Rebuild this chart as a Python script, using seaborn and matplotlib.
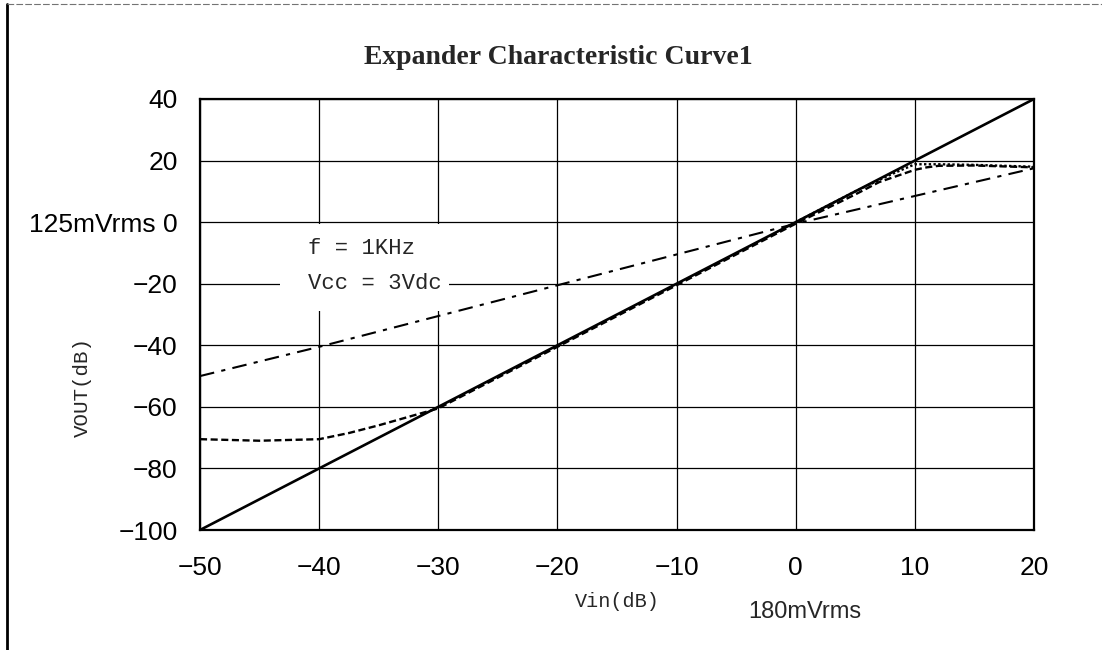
import matplotlib
matplotlib.use("Agg")
import matplotlib.pyplot as plt
import seaborn as sns
from matplotlib import font_manager
from matplotlib.patches import Rectangle
from matplotlib.lines import Line2D

# reference line Vout = 2*Vin (solid)
vin_solid = [-50, -40, -30, -20, -10, 0, 10, 20]
vout_solid = [-100, -80, -60, -40, -20, 0, 20, 40]

# unity line (dash-dot)
vin_unity = [-50, -40, -30, -20, -10, 0, 10, 20]
vout_unity = [-50, -40.5, -30.5, -20.5, -10.5, -0.5, 8.5, 17.5]

# measured expander curve (dashed)
vin_meas = [-50, -45, -40, -37.5, -35, -30, -20, -10, 0, 5, 7, 10, 11, 12, 15, 20]
vout_meas = [-70.5, -71, -70.5, -68.5, -66, -60.5, -40.5, -20.5, -0.5, 9, 13, 17, 17.8, 18.3, 18.4, 17.8]

# second measured curve (dotted), only visible at the top end
vin_meas2 = [0, 5, 8, 10, 12, 15, 20]
vout_meas2 = [0, 10, 15.5, 18.8, 18.8, 18.6, 18]

xticks = [-50, -40, -30, -20, -10, 0, 10, 20]
yticks = [-100, -80, -60, -40, -20, 0, 20, 40]
ylabels = ["\u2212100", "\u221280", "\u221260", "\u221240", "\u221220", "125mVrms 0", "20", "40"]
xlabels = ["\u221250", "\u221240", "\u221230", "\u221220", "\u221210", "0", "10", "20"]

sns.set_style("white")
names = {f.name for f in font_manager.fontManager.ttflist}
narrow = "Liberation Sans Narrow" if "Liberation Sans Narrow" in names else "Liberation Sans"
mono = "Liberation Mono"
plt.rcParams["font.family"] = [narrow, "DejaVu Sans"]

fig = plt.figure(figsize=(11.02, 6.5), dpi=100)
ax = fig.add_axes([200 / 1102, 1 - 530 / 650, 834 / 1102, 431 / 650])

sns.lineplot(x=vin_solid, y=vout_solid, ax=ax, color="black", linewidth=1.9, zorder=5)
sns.lineplot(x=vin_unity, y=vout_unity, ax=ax, color="black", linewidth=1.5,
             linestyle=(0, (7, 3.5, 2, 3.5)), zorder=4)
sns.lineplot(x=vin_meas, y=vout_meas, ax=ax, color="black", linewidth=1.7,
             linestyle=(0, (3, 1.5)), zorder=4)
sns.lineplot(x=vin_meas2, y=vout_meas2, ax=ax, color="black", linewidth=1.7,
             linestyle=(0, (1, 1)), zorder=4)

ax.set_xlim(-50, 20)
ax.set_ylim(-100, 40)
ax.set_xticks(xticks)
ax.set_xticklabels(xlabels)
ax.set_yticks(yticks)
ax.set_yticklabels(ylabels)
ax.tick_params(axis="both", length=0, labelsize=19, colors="black")
ax.tick_params(axis="x", pad=19)
ax.tick_params(axis="y", pad=16)
ax.grid(True, color="black", linewidth=0.9)
for s in ax.spines.values():
    s.set_color("black")
    s.set_linewidth(1.6)

# white patch where the gridlines break behind the note
ax.add_patch(Rectangle((-43.3, -29), 14.2, 28.3, facecolor="white", edgecolor="none", zorder=2))
ax.text(-40.9, -10.5, "f = 1KHz", ha="left", va="baseline", fontsize=16, family=mono, zorder=3)
ax.text(-40.9, -21.6, "Vcc = 3Vdc", ha="left", va="baseline", fontsize=16, family=mono, zorder=3)

# axis titles
ax.text(-15, -0.165, "Vin(dB)", transform=ax.get_xaxis_transform(), ha="center", va="center",
        family=mono, fontsize=14.5)
ax.text(-4.0, -0.19, "180mVrms", transform=ax.get_xaxis_transform(), ha="left", va="center",
        fontsize=17)
fig.text(82 / 1102, 1 - 387 / 650, "VOUT(dB)", rotation=90, ha="center", va="center",
         family=mono, fontsize=15)

fig.text(558 / 1102, 1 - 57 / 650, "Expander Characteristic Curve1", ha="center", va="center",
         family="Liberation Serif", fontweight="bold", fontsize=20)

# scanned page frame
fig.add_artist(Line2D([7 / 1102, 7 / 1102], [0, 1 - 4 / 650], color="black", linewidth=2))
fig.add_artist(Line2D([7 / 1102, 1], [1 - 4 / 650, 1 - 4 / 650], color="0.45", linewidth=0.8,
                      linestyle=(0, (6, 2))))

fig.savefig("out.png", dpi=100)
